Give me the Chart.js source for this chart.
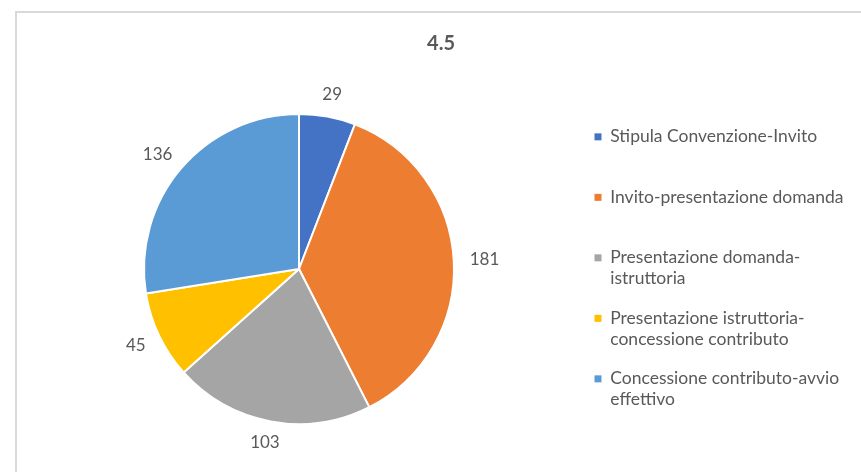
<!DOCTYPE html>
<html>
<head>
<meta charset="utf-8">
<script src="https://cdn.jsdelivr.net/npm/chart.js@4"></script>
<style>
    body { margin: 0; overflow: hidden; background: #fff; }
    .frame { position: absolute; left: 15px; top: 11px; width: 900px; height: 500px; border: 2px solid #d9d9d9; }
    .wrap { position: absolute; left: 0; top: 0; width: 861px; height: 472px; }
</style>
</head>
<body>
<div class="frame"></div>
<div class="wrap"><canvas id="pieChart"></canvas></div>
<script>
// Data
const categories = [
    ['Stipula Convenzione-Invito', ''],
    ['Invito-presentazione domanda', ''],
    ['Presentazione domanda-', 'istruttoria'],
    ['Presentazione istruttoria-', 'concessione contributo'],
    ['Concessione contributo-avvio', 'effettivo']
];
const values = [29, 181, 103, 45, 136];
const colors = ['#4472C4', '#ED7D31', '#A5A5A5', '#FFC000', '#5B9BD5'];

const textColor = '#595959';
const fontFamily = 'Lato, "Open Sans", sans-serif';

// labels outside the slices
const outsideLabels = {
    id: 'outsideLabels',
    afterDatasetsDraw(chart) {
        const ctx = chart.ctx;
        const meta = chart.getDatasetMeta(0);
        ctx.save();
        ctx.font = '17px ' + fontFamily;
        ctx.fillStyle = textColor;
        ctx.textAlign = 'center';
        ctx.textBaseline = 'middle';
        meta.data.forEach((arc, i) => {
            const p = arc.getProps(['x', 'y', 'startAngle', 'endAngle', 'outerRadius'], true);
            const mid = (p.startAngle + p.endAngle) / 2;
            const dx = Math.cos(mid), dy = Math.sin(mid);
            const txt = String(values[i]);
            const w = ctx.measureText(txt).width;
            const r = p.outerRadius + 16;
            ctx.fillText(txt, p.x + dx * r + dx * w / 2, p.y + dy * r + dy * 6);
        });
        ctx.restore();
    }
};

// fixed legend width
const legendWidth = {
    id: 'legendWidth',
    beforeInit(chart) {
        const fit = chart.legend.fit;
        chart.legend.fit = function () {
            fit.bind(chart.legend)();
            this.width = 284;
        };
    }
};

const ctxPie = document.getElementById('pieChart').getContext('2d');
const pieChart = new Chart(ctxPie, {
    type: 'pie',
    data: {
        labels: categories,
        datasets: [{
            data: values,
            backgroundColor: colors,
            borderColor: '#ffffff',
            borderWidth: 2,
            hoverOffset: 0
        }]
    },
    options: {
        responsive: true,
        maintainAspectRatio: false,
        animation: false,
        radius: 155,
        layout: { padding: { left: 22, right: 1, top: 10, bottom: 34 } },
        plugins: {
            title: {
                display: true,
                text: '4.5',
                color: textColor,
                font: { family: fontFamily, size: 20, weight: 'bold', lineHeight: 1.2 },
                padding: { top: 22, bottom: 44 }
            },
            legend: {
                position: 'right',
                align: 'start',
                fullSize: false,
                title: {
                    display: true,
                    text: '',
                    padding: 0,
                    font: { size: 8, lineHeight: 1.2 }
                },
                labels: {
                    boxWidth: 7,
                    boxHeight: 7,
                    padding: 18.5,
                    color: textColor,
                    font: { family: fontFamily, size: 17.5, lineHeight: 1.2 },
                    generateLabels(chart) {
                        const items = Chart.overrides.pie.plugins.legend.labels.generateLabels(chart);
                        return items.map(item => ({ ...item, lineWidth: 0 }));
                    }
                }
            },
            tooltip: { enabled: false }
        }
    },
    plugins: [outsideLabels, legendWidth]
});
</script>
</body>
</html>
